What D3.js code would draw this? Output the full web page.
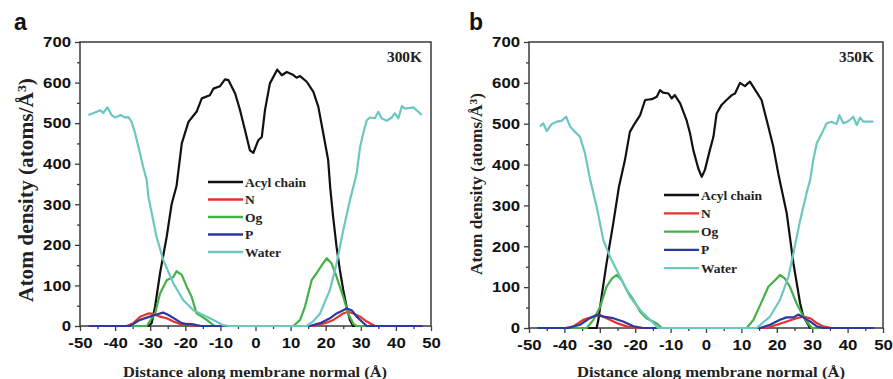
<!DOCTYPE html>
<html><head><meta charset="utf-8">
<script src="https://cdn.jsdelivr.net/npm/d3@7"></script>
<style>body{margin:0;background:#fff}svg{display:block}</style>
</head><body>
<svg id="chart" width="893" height="379"></svg>
<script>
// Axis ticks
const xTicks = [-50, -40, -30, -20, -10, 0, 10, 20, 30, 40, 50];
const xMinor = [-45, -35, -25, -15, -5, 5, 15, 25, 35, 45];
const yTicks = [0, 100, 200, 300, 400, 500, 600, 700];
const yMinor = [50, 150, 250, 350, 450, 550, 650];

const seriesNames = ["Acyl chain", "N", "Og", "P", "Water"];
const seriesColors = ["#111111", "#e8322c", "#45b046", "#2a3a9e", "#6cc6c2"];

// 300 K density profiles: [distance (Å), density]
const acyl300 = [[-47.6,0],[-30.5,0],[-29.6,7],[-28.6,48],[-27.2,130],[-25.3,220],[-23.9,300],[-22.5,345],[-21.0,450],[-19.1,503],[-16.8,528],[-15.3,561],[-13.0,569],[-12.0,585],[-10.1,591],[-8.7,608],[-7.7,606],[-5.8,573],[-4.4,532],[-3.0,483],[-1.6,433],[-0.6,427],[0.8,458],[1.8,466],[2.7,532],[4.1,598],[5.1,614],[6.2,632],[7.5,618],[8.9,626],[10.5,620],[11.7,612],[12.7,616],[14.6,602],[16.5,577],[17.9,540],[19.3,475],[20.7,409],[21.3,340],[22.1,270],[23.1,195],[24.0,140],[25.0,89],[26.0,45],[26.9,15],[27.8,0],[47.6,0]];
const n300 = [[-47.6,0],[-36.7,0],[-34.8,7],[-32.9,23],[-30.5,31],[-29.1,30],[-27.2,23],[-25.3,19],[-23.4,11],[-21.5,5],[-18.7,2],[-14.9,0],[16.5,0],[19.8,7],[22.2,15],[25.0,31],[26.4,35],[27.9,31],[29.8,23],[31.7,11],[34.0,0],[47.6,0]];
const og300 = [[-47.6,0],[-31.0,0],[-28.6,31],[-27.2,80],[-25.3,113],[-23.4,121],[-22.5,135],[-21.0,126],[-19.6,97],[-18.2,72],[-16.8,31],[-15.3,23],[-13.9,15],[-12.0,2],[-11.4,0],[10.8,0],[12.7,15],[14.1,48],[16.0,113],[17.4,130],[18.9,150],[20.3,167],[21.7,154],[23.1,121],[25.0,72],[26.4,31],[27.9,5],[28.8,0],[47.6,0]];
const p300 = [[-47.6,0],[-35.8,0],[-32.9,15],[-30.1,23],[-27.2,31],[-26.3,33],[-24.8,27],[-22.5,15],[-21.0,7],[-19.6,5],[-17.7,4],[-15.8,0],[15.5,0],[18.4,7],[21.2,19],[23.1,31],[25.0,39],[26.0,43],[27.4,39],[28.8,23],[30.3,11],[31.7,0],[47.6,0]];
const water300 = [[-47.6,520],[-45.2,528],[-44.3,532],[-43.4,525],[-42.2,539],[-41.0,520],[-40.0,514],[-38.4,520],[-37.2,514],[-36.2,515],[-35.3,503],[-34.3,475],[-32.9,425],[-32.0,392],[-31.0,360],[-30.5,318],[-28.2,220],[-26.3,163],[-23.4,105],[-20.6,64],[-17.7,39],[-14.9,27],[-12.0,15],[-9.2,2],[-7.6,0],[14.6,0],[16.5,12],[18.4,31],[21.2,89],[23.1,154],[25.0,236],[26.9,310],[28.8,375],[29.8,442],[30.7,475],[31.7,507],[32.6,514],[34.0,512],[35.0,528],[35.9,512],[37.4,506],[38.8,514],[39.7,524],[40.7,512],[41.7,542],[42.6,536],[45.0,539],[46.4,528],[47.3,520]];

// 350 K density profiles
const acyl350 = [[-47.6,0],[-30.9,0],[-30.4,20],[-29.5,77],[-28.1,158],[-26.2,256],[-24.6,345],[-22.9,411],[-21.5,480],[-20.1,501],[-18.6,521],[-17.2,558],[-15.3,560],[-13.9,566],[-13.0,582],[-12.1,576],[-10.6,574],[-9.7,562],[-8.8,570],[-7.3,550],[-5.5,509],[-4.5,476],[-3.6,436],[-2.2,391],[-1.2,370],[-0.3,387],[1.1,436],[2.1,468],[3.0,525],[4.4,546],[5.8,558],[7.3,570],[8.2,574],[9.6,600],[11.0,592],[12.4,603],[13.8,584],[15.7,558],[17.6,493],[19.0,444],[20.4,379],[21.4,338],[22.8,281],[24.7,158],[26.6,60],[27.5,28],[29.4,0],[47.6,0]];
const n350 = [[-47.6,0],[-39.8,0],[-37.5,4],[-34.7,20],[-31.8,28],[-29.9,32],[-28.1,24],[-25.2,12],[-22.4,4],[-19.6,0],[17.1,0],[20.0,8],[22.8,16],[25.6,24],[27.5,28],[29.4,24],[31.3,12],[33.1,4],[35.5,0],[47.6,0]];
const og350 = [[-47.6,0],[-33.7,0],[-31.8,20],[-29.9,52],[-28.1,101],[-26.6,121],[-25.2,130],[-23.8,117],[-22.4,93],[-20.5,69],[-18.6,40],[-16.8,24],[-13.9,11],[-12.5,0],[11.5,0],[13.4,20],[15.3,56],[17.6,101],[19.5,117],[20.9,130],[22.3,121],[23.7,101],[25.6,60],[27.5,28],[28.9,11],[29.9,0],[47.6,0]];
const p350 = [[-47.6,0],[-38.9,0],[-35.6,8],[-32.8,24],[-30.9,32],[-29.0,28],[-26.2,24],[-23.4,16],[-20.5,4],[-17.7,0],[15.3,0],[18.1,8],[20.9,20],[22.8,26],[24.7,26],[26.1,33],[27.5,26],[29.4,16],[31.3,4],[33.1,0],[47.6,0]];
const water350 = [[-46.9,493],[-46.0,501],[-45.0,482],[-43.6,499],[-42.2,505],[-40.8,507],[-39.5,517],[-38.4,493],[-37.0,480],[-35.6,468],[-34.2,428],[-32.8,366],[-30.9,297],[-29.0,215],[-27.1,174],[-24.3,126],[-21.5,77],[-18.6,44],[-15.8,20],[-13.5,0],[14.3,0],[18.1,28],[20.9,69],[23.3,126],[24.7,183],[26.6,264],[28.4,330],[29.4,362],[30.3,411],[31.3,452],[32.7,476],[34.1,501],[35.5,505],[36.9,499],[37.7,521],[38.8,501],[40.2,506],[41.6,517],[42.6,497],[43.5,515],[44.4,505],[45.8,505],[47.3,505]];

const panels = [
  {letter: "a", temp: "300K", data: [acyl300, n300, og300, p300, water300],
   x0: 80, x1: 431, y0: 42, y1: 326, letterX: 14,
   yTitle: {x: 33, y: 190, len: 224, size: 20},
   xTitle: {x: 255, len: 264},
   legend: {x: 208, y: 182, dy: 17.5}},
  {letter: "b", temp: "350K", data: [acyl350, n350, og350, p350, water350],
   x0: 529, x1: 883, y0: 42, y1: 328, letterX: 469,
   yTitle: {x: 482, y: 184, len: 182, size: 16},
   xTitle: {x: 711, len: 268},
   legend: {x: 664, y: 195, dy: 18.3}}
];

const svg = d3.select("#chart");
const SANS = "Arial, 'Liberation Sans', sans-serif";
const SERIF = "'Times New Roman', 'Liberation Serif', serif";
const frameColor = "#3a3a3a";
const plainNum = d => String(d);

panels.forEach(p => {
  const x = d3.scaleLinear().domain([-50, 50]).range([p.x0, p.x1]);
  const y = d3.scaleLinear().domain([0, 700]).range([p.y1, p.y0]);
  const g = svg.append("g");

  // minor ticks
  g.append("g").attr("transform", `translate(${p.x0},0)`)
    .call(d3.axisLeft(y).tickValues(yMinor).tickSize(3).tickFormat(""))
    .call(a => a.select(".domain").remove());
  g.append("g").attr("transform", `translate(0,${p.y1})`)
    .call(d3.axisBottom(x).tickValues(xMinor).tickSize(3).tickFormat(""))
    .call(a => a.select(".domain").remove());

  // major ticks with labels
  const ya = g.append("g").attr("transform", `translate(${p.x0},0)`)
    .call(d3.axisLeft(y).tickValues(yTicks).tickSize(5).tickPadding(3).tickFormat(plainNum));
  const xa = g.append("g").attr("transform", `translate(0,${p.y1})`)
    .call(d3.axisBottom(x).tickValues(xTicks).tickSize(5).tickPadding(4).tickFormat(plainNum));
  [ya, xa].forEach(a => {
    a.select(".domain").remove();
    a.selectAll("text").attr("font-family", SANS).attr("font-weight", "bold")
      .attr("font-size", 15).attr("fill", "#111");
  });
  ya.selectAll("text").attr("transform", "scale(1.12,1)");
  xa.selectAll("text").attr("transform", "scale(1.12,1)").attr("dy", "0.9em");
  g.selectAll(".tick line").attr("stroke", frameColor).attr("stroke-width", 1.3);

  // frame
  g.append("rect").attr("x", p.x0).attr("y", p.y0)
    .attr("width", p.x1 - p.x0).attr("height", p.y1 - p.y0)
    .attr("fill", "none").attr("stroke", frameColor).attr("stroke-width", 1.5);

  // density curves
  const line = d3.line().x(d => x(d[0])).y(d => y(d[1]));
  p.data.forEach((s, i) => {
    g.append("path").datum(s).attr("d", line)
      .attr("fill", "none").attr("stroke", seriesColors[i])
      .attr("stroke-width", 2.2).attr("stroke-linejoin", "round");
  });

  // legend
  seriesNames.forEach((name, i) => {
    const ly = p.legend.y + i * p.legend.dy;
    g.append("line").attr("x1", p.legend.x).attr("x2", p.legend.x + 35)
      .attr("y1", ly).attr("y2", ly)
      .attr("stroke", seriesColors[i]).attr("stroke-width", 2.3);
    g.append("text").attr("x", p.legend.x + 37).attr("y", ly + 4.5)
      .attr("font-family", SERIF).attr("font-weight", "bold").attr("font-size", 13.5)
      .attr("fill", "#222").text(name);
  });

  // temperature label
  g.append("text").attr("x", p.x1 - 9).attr("y", 62).attr("text-anchor", "end")
    .attr("font-family", SERIF).attr("font-weight", "bold").attr("font-size", 14)
    .attr("textLength", 35).attr("lengthAdjust", "spacingAndGlyphs")
    .attr("fill", "#222").text(p.temp);

  // panel letter
  g.append("text").attr("x", p.letterX).attr("y", 30)
    .attr("font-family", SANS).attr("font-weight", "bold").attr("font-size", 23)
    .attr("fill", "#111").text(p.letter);

  // axis titles
  g.append("text").attr("x", p.xTitle.x).attr("y", 377).attr("text-anchor", "middle")
    .attr("font-family", SERIF).attr("font-weight", "bold").attr("font-size", 15)
    .attr("textLength", p.xTitle.len).attr("lengthAdjust", "spacingAndGlyphs")
    .attr("fill", "#222").text("Distance along membrane normal (Å)");

  const yt = g.append("text")
    .attr("transform", `translate(${p.yTitle.x},${p.yTitle.y}) rotate(-90)`)
    .attr("text-anchor", "middle")
    .attr("font-family", SERIF).attr("font-weight", "bold").attr("font-size", p.yTitle.size)
    .attr("textLength", p.yTitle.len).attr("lengthAdjust", "spacingAndGlyphs")
    .attr("fill", "#222");
  yt.append("tspan").text("Atom density (atoms/Å");
  yt.append("tspan").attr("baseline-shift", "super").attr("font-size", p.yTitle.size * 0.65).text("3");
  yt.append("tspan").text(")");
});
</script>
</body></html>
